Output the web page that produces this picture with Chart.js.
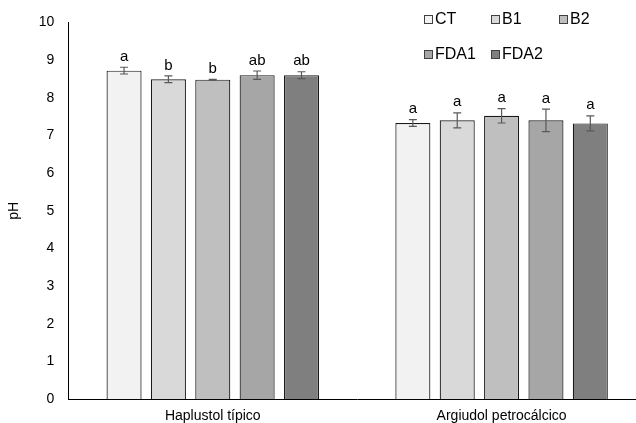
<!DOCTYPE html>
<html>
<head>
<meta charset="utf-8">
<script src="https://cdn.jsdelivr.net/npm/chart.js@4.4.0/dist/chart.umd.min.js"></script>
<style>
  html, body { margin: 0; padding: 0; background: #fff; }
  #wrap { width: 636px; height: 423px; overflow: hidden; }
</style>
</head>
<body>
<div id="wrap"><canvas id="myChart" width="650" height="423"></canvas></div>
<script>
var soils = ["Haplustol típico", "Argiudol petrocálcico"];
var treatments = ["CT", "B1", "B2", "FDA1", "FDA2"];
var colors = ["#f2f2f2", "#d9d9d9", "#bfbfbf", "#a6a6a6", "#7f7f7f"];

// pH means, per treatment: [Haplustol, Argiudol]
var ctValues = [8.72, 7.33];
var b1Values = [8.49, 7.40];
var b2Values = [8.48, 7.52];
var fda1Values = [8.60, 7.40];
var fda2Values = [8.60, 7.32];

// standard errors
var ctErrors = [0.09, 0.09];
var b1Errors = [0.09, 0.20];
var b2Errors = [0.01, 0.19];
var fda1Errors = [0.11, 0.30];
var fda2Errors = [0.09, 0.20];

// significance letters
var ctLetters = ["a", "a"];
var b1Letters = ["b", "a"];
var b2Letters = ["b", "a"];
var fda1Letters = ["ab", "a"];
var fda2Letters = ["ab", "a"];

var yTicks = [0, 1, 2, 3, 4, 5, 6, 7, 8, 9, 10];

var allValues = [ctValues, b1Values, b2Values, fda1Values, fda2Values];
var allErrors = [ctErrors, b1Errors, b2Errors, fda1Errors, fda2Errors];
var allLetters = [ctLetters, b1Letters, b2Letters, fda1Letters, fda2Letters];

var FONT = "'Liberation Sans', Arial, sans-serif";

var errorBarPlugin = {
    id: "errorBars",
    afterDatasetsDraw: function(chart) {
        var ctx = chart.ctx;
        var yScale = chart.scales.y;
        ctx.save();
        chart.data.datasets.forEach(function(ds, di) {
            var meta = chart.getDatasetMeta(di);
            meta.data.forEach(function(bar, i) {
                var v = ds.data[i];
                var e = allErrors[di][i];
                var yHi = yScale.getPixelForValue(v + e);
                var yLo = yScale.getPixelForValue(v - e);
                var x = bar.x;
                ctx.strokeStyle = "#595959";
                ctx.lineWidth = 1.2;
                ctx.beginPath();
                ctx.moveTo(x, yHi); ctx.lineTo(x, yLo);
                ctx.moveTo(x - 4, yHi); ctx.lineTo(x + 4, yHi);
                ctx.moveTo(x - 4, yLo); ctx.lineTo(x + 4, yLo);
                ctx.stroke();
                ctx.fillStyle = "#000";
                ctx.font = "15px " + FONT;
                ctx.textAlign = "center";
                ctx.textBaseline = "bottom";
                ctx.fillText(allLetters[di][i], x, yHi - 3);
            });
        });
        ctx.restore();
    }
};

var legendPlugin = {
    id: "boxLegend",
    afterDraw: function(chart) {
        var ctx = chart.ctx;
        var cols = [424, 491, 559];
        var rows = [19, 54];
        ctx.save();
        ctx.font = "16px " + FONT;
        ctx.textBaseline = "middle";
        ctx.textAlign = "left";
        treatments.forEach(function(name, i) {
            var x = cols[i % 3];
            var y = rows[Math.floor(i / 3)];
            ctx.fillStyle = colors[i];
            ctx.fillRect(x, y - 4, 8, 8);
            ctx.strokeStyle = "#404040";
            ctx.lineWidth = 1;
            ctx.strokeRect(x + 0.5, y - 3.5, 8, 8);
            ctx.fillStyle = "#000";
            ctx.fillText(name, x + 11, y + 1);
        });
        ctx.restore();
    }
};

window.onload = function() {
    var ctx = document.getElementById("myChart").getContext("2d");
    var datasets = treatments.map(function(name, i) {
        return {
            label: name,
            data: allValues[i],
            backgroundColor: colors[i],
            borderColor: "#1a1a1a",
            borderWidth: 1.2,
            barPercentage: 0.79,
            categoryPercentage: 0.768
        };
    });
    var myChart = new Chart(ctx, {
        type: "bar",
        data: { labels: soils, datasets: datasets },
        options: {
            responsive: false,
            animation: false,
            layout: { padding: { top: 10, right: 4, left: 6, bottom: -11 } },
            plugins: {
                legend: { display: false },
                tooltip: { enabled: false }
            },
            scales: {
                x: {
                    grid: { display: false, drawTicks: false },
                    border: { color: "#000", width: 1 },
                    ticks: { color: "#000", padding: 9, font: { family: FONT, size: 14 } }
                },
                y: {
                    min: 0,
                    max: 10,
                    afterBuildTicks: function(axis) {
                        axis.ticks = yTicks.map(function(v) { return { value: v }; });
                    },
                    grid: { display: false, drawTicks: false },
                    border: { color: "#000", width: 1 },
                    ticks: { color: "#000", padding: 14, font: { family: FONT, size: 14 } },
                    title: {
                        display: true,
                        text: "pH",
                        color: "#000",
                        padding: { top: 0, bottom: 2 },
                        font: { family: FONT, size: 14 }
                    }
                }
            }
        },
        plugins: [errorBarPlugin, legendPlugin]
    });
};
</script>
</body>
</html>
